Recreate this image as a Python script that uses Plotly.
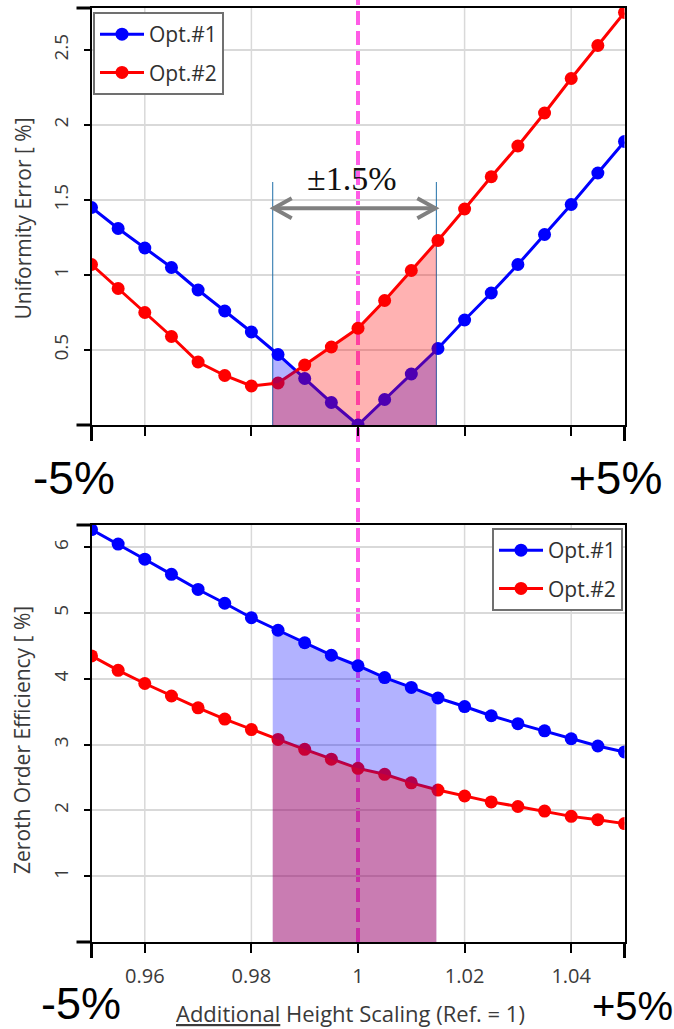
import numpy as np
import plotly.graph_objects as go

# Additional height scaling (Ref. = 1)
X_SCALE = [0.950, 0.955, 0.960, 0.965, 0.970, 0.975, 0.980, 0.985, 0.990, 0.995,
           1.000, 1.005, 1.010, 1.015, 1.020, 1.025, 1.030, 1.035, 1.040, 1.045, 1.050]

# Uniformity error [%]
UE_OPT1 = [1.45, 1.31, 1.18, 1.05, 0.90, 0.76, 0.62, 0.47, 0.31, 0.15,
           0.00, 0.17, 0.34, 0.51, 0.70, 0.88, 1.07, 1.27, 1.47, 1.68, 1.89]
UE_OPT2 = [1.07, 0.91, 0.75, 0.59, 0.42, 0.33, 0.26, 0.28, 0.40, 0.52,
           0.645, 0.83, 1.03, 1.23, 1.44, 1.655, 1.86, 2.08, 2.31, 2.53, 2.75]

# Zeroth order efficiency [%]
ZOE_OPT1 = [6.27, 6.05, 5.82, 5.59, 5.36, 5.15, 4.93, 4.74, 4.55, 4.36,
            4.20, 4.02, 3.87, 3.71, 3.58, 3.44, 3.32, 3.21, 3.09, 2.98, 2.89]
ZOE_OPT2 = [4.35, 4.13, 3.93, 3.74, 3.56, 3.39, 3.23, 3.08, 2.93, 2.78,
            2.64, 2.55, 2.42, 2.31, 2.22, 2.13, 2.06, 1.99, 1.91, 1.86, 1.80]

SERIES_NAMES = ["Opt.#1", "Opt.#2"]
X_TICKS = [0.96, 0.98, 1.00, 1.02, 1.04]
X_TICK_LABELS = ["0.96", "0.98", "1", "1.02", "1.04"]
UE_TICKS = [0.5, 1, 1.5, 2, 2.5]
ZOE_TICKS = [1, 2, 3, 4, 5, 6]

REF_SCALE = 1.0          # reference height
BAND_LO, BAND_HI = 0.984, 1.0147   # tolerance window (±1.5%)
ARROW_Y = 1.445          # height of the tolerance arrow (uniformity axis)
BAND_MARK_TOP = 1.62     # top of the window marker lines

W, H = 674, 1029
PX_L, PX_R = 91.5, 624.5
TOP_T, TOP_B = 8, 425
BOT_T, BOT_B = 525, 942


def px_x(p):
    return p / W


def px_y(p):
    return 1 - p / H


BLUE, RED = "#0000ff", "#ff0000"
BLUE_FILL, RED_FILL = "rgba(0,0,255,0.30)", "rgba(255,0,0,0.30)"
TEXT = "#3a3a3a"
GRID = "#d9d9d9"
FONT = "Open Sans"


def band_fill(xs, ys):
    xs = np.asarray(xs)
    ys = np.asarray(ys)
    inner = (xs > BAND_LO) & (xs < BAND_HI)
    bx = np.concatenate([[BAND_LO], xs[inner], [BAND_HI]])
    by = np.interp(bx, xs, ys)
    return bx, by


fig = go.Figure()

panels = [
    ("x", "y", "legend", UE_OPT1, UE_OPT2),
    ("x2", "y2", "legend2", ZOE_OPT1, ZOE_OPT2),
]
for xa, ya, leg, s1, s2 in panels:
    for name, vals, col, grp in [(SERIES_NAMES[0], s1, BLUE, "g1"),
                                 (SERIES_NAMES[1], s2, RED, "g2")]:
        fig.add_trace(go.Scatter(
            x=X_SCALE, y=vals, name=name, mode="lines+markers",
            line=dict(color=col, width=3), marker=dict(color=col, size=13),
            xaxis=xa, yaxis=ya, legend=leg, legendgroup=grp,
        ))
    for vals, fc in [(s1, BLUE_FILL), (s2, RED_FILL)]:
        bx, by = band_fill(X_SCALE, vals)
        fig.add_trace(go.Scatter(
            x=bx, y=by, mode="none", fill="tozeroy", fillcolor=fc,
            xaxis=xa, yaxis=ya, showlegend=False, hoverinfo="skip",
        ))

axis_common = dict(
    showline=True, mirror=True, linecolor="black", linewidth=2,
    ticks="outside", tickcolor="black", tickwidth=1.5,
    showgrid=True, gridcolor=GRID, gridwidth=1.5, zeroline=False,
    tickfont=dict(family=FONT, size=20, color=TEXT),
)

x_dom = [px_x(PX_L), px_x(PX_R)]
legend_common = dict(bgcolor="white", bordercolor="#707070", borderwidth=2,
                     font=dict(family=FONT, size=21, color="#303030"),
                     tracegroupgap=8, itemwidth=44)
fig.update_layout(
    width=W, height=H, autosize=False,
    margin=dict(l=0, r=0, t=0, b=0),
    paper_bgcolor="white", plot_bgcolor="white",
    showlegend=True,
    xaxis=dict(axis_common, domain=x_dom, range=[0.95, 1.05], anchor="y",
               tickvals=X_TICKS, ticktext=X_TICK_LABELS, ticklen=9,
               showticklabels=False, showgrid=False),
    yaxis=dict(axis_common, domain=[px_y(TOP_B), px_y(TOP_T)], range=[0, 2.78],
               anchor="x", tickvals=UE_TICKS, ticklen=6, tickangle=-90,
               ticklabelstandoff=8, tickfont=dict(family=FONT, size=19, color=TEXT)),
    xaxis2=dict(axis_common, domain=x_dom, range=[0.95, 1.05], anchor="y2",
                tickvals=X_TICKS, ticktext=X_TICK_LABELS, ticklen=9,
                ticklabelstandoff=6, showgrid=False),
    yaxis2=dict(axis_common, domain=[px_y(BOT_B), px_y(BOT_T)], range=[0, 6.34],
                anchor="x2", tickvals=ZOE_TICKS, ticklen=6, tickangle=-90,
                ticklabelstandoff=8, tickfont=dict(family=FONT, size=19, color=TEXT)),
    legend=dict(legend_common, x=px_x(93), y=px_y(12), xanchor="left", yanchor="top"),
    legend2=dict(legend_common, x=px_x(623), y=px_y(528), xanchor="right", yanchor="top"),
)

shapes = []
# vertical grid lines (the one at the reference scale is replaced by the dashed line)
for xa, ya in (("x", "y"), ("x2", "y2")):
    for xv in X_TICKS:
        if abs(xv - REF_SCALE) < 1e-9:
            continue
        shapes.append(dict(type="line", xref=xa, yref=ya + " domain", x0=xv, x1=xv,
                           y0=0, y1=1, line=dict(color=GRID, width=1.5), layer="below"))

# reference line at scale = 1, running through both panels
dash = dict(color="#ff5ce6", width=4, dash="14px,6px")
shapes.append(dict(type="line", xref="x", yref="paper", x0=REF_SCALE, x1=REF_SCALE,
                   y0=px_y(TOP_B), y1=1.0, line=dash, layer="between"))
shapes.append(dict(type="line", xref="x2", yref="paper", x0=REF_SCALE, x1=REF_SCALE,
                   y0=px_y(BOT_B), y1=px_y(TOP_B), line=dash, layer="between"))

# tolerance window markers and arrow
for xv in (BAND_LO, BAND_HI):
    shapes.append(dict(type="line", xref="x", yref="y", x0=xv, x1=xv, y0=0,
                       y1=BAND_MARK_TOP, line=dict(color="#1f6fa8", width=1),
                       layer="between"))
arrow_line = dict(color="#808080", width=4)
shapes.append(dict(type="line", xref="x", yref="y", x0=BAND_LO, x1=BAND_HI,
                   y0=ARROW_Y, y1=ARROW_Y, line=arrow_line))
shapes.append(dict(type="path", xref="x", yref="y", xsizemode="pixel",
                   ysizemode="pixel", xanchor=BAND_LO, yanchor=ARROW_Y,
                   path="M 19,10 L 1,0 L 19,-10", line=arrow_line))
shapes.append(dict(type="path", xref="x", yref="y", xsizemode="pixel",
                   ysizemode="pixel", xanchor=BAND_HI, yanchor=ARROW_Y,
                   path="M -19,10 L -1,0 L -19,-10", line=arrow_line))

# heavy end marks at the axis corners
corner = dict(color="black", width=3)
for xa, ya in (("x", "y"), ("x2", "y2")):
    xd, yd = xa + " domain", ya + " domain"
    shapes.append(dict(type="line", xref=xd, yref=yd, xsizemode="pixel", xanchor=0,
                       x0=0, x1=-15, y0=1, y1=1, line=corner))
    shapes.append(dict(type="line", xref=xd, yref=yd, xsizemode="pixel", xanchor=0,
                       x0=0, x1=-15, y0=0, y1=0, line=corner))
    shapes.append(dict(type="line", xref=xd, yref=yd, ysizemode="pixel", yanchor=0,
                       x0=0, x1=0, y0=0, y1=-16, line=corner))
    shapes.append(dict(type="line", xref=xd, yref=yd, ysizemode="pixel", yanchor=0,
                       x0=1, x1=1, y0=0, y1=-16, line=corner))
fig.update_layout(shapes=shapes)

ann = []
ann.append(dict(text="Uniformity Error [ %]", x=px_x(22), y=px_y((TOP_T + TOP_B) / 2 + 2),
                textangle=-90, font=dict(family=FONT, size=21, color=TEXT)))
ann.append(dict(text="Zeroth Order Efficiency [ %]", x=px_x(22), y=px_y(740),
                textangle=-90, font=dict(family=FONT, size=21, color=TEXT)))
ann.append(dict(text="<u>Additional</u> Height Scaling (Ref. = 1)", x=px_x(350),
                y=px_y(1013), font=dict(family=FONT, size=22, color=TEXT)))
ann.append(dict(text="±1.5%", x=px_x(351), y=px_y(178),
                font=dict(family="Liberation Serif", size=34, color="#111111")))
big = dict(family="Liberation Sans", size=46, color="black")
ann.append(dict(text="-5%", x=px_x(74), y=px_y(478), font=big))
ann.append(dict(text="+5%", x=px_x(615), y=px_y(478), font=big))
ann.append(dict(text="-5%", x=px_x(81), y=px_y(1003.5),
                font=dict(family="Liberation Sans", size=45, color="black")))
ann.append(dict(text="+5%", x=px_x(632.5), y=px_y(1006),
                font=dict(family="Liberation Sans", size=40, color="black")))
for a in ann:
    a.update(xref="paper", yref="paper", showarrow=False,
             xanchor="center", yanchor="middle")
fig.update_layout(annotations=ann)

fig.write_html("out.html")
